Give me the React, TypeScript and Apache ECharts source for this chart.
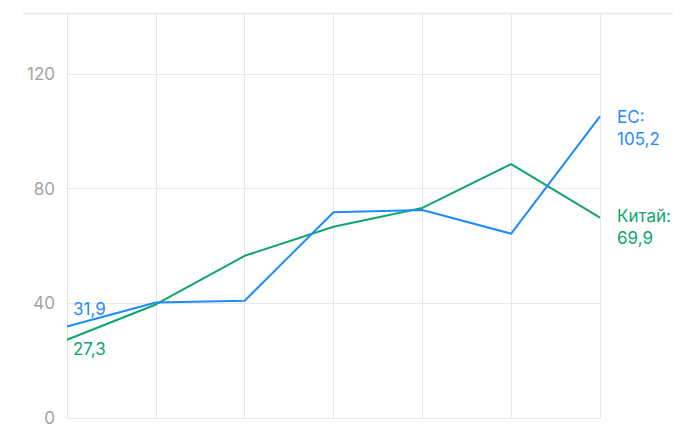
import React, { useEffect, useRef } from "react";
import * as echarts from "echarts";

const categories = ["1", "2", "3", "4", "5", "6", "7"];
const euValues = [31.9, 40.3, 40.9, 71.8, 72.6, 64.3, 105.2];
const chinaValues = [27.3, 39.6, 56.6, 66.7, 73.3, 88.6, 69.9];
const euName = "ЕС";
const chinaName = "Китай";
const yTicks = [0, 40, 80, 120];

const BLUE = "#1f8bff";
const GREEN = "#0ea66a";
const GRID = "#e8e8e8";
const FONT = "Inter";
const FS = 17;

function fmt(v: number) {
  return v.toFixed(1).replace(".", ",");
}

export default function App() {
  const ref = useRef<HTMLDivElement>(null);
  useEffect(() => {
    const chart = echarts.init(ref.current!, null, { renderer: "svg" });
    const last = categories.length - 1;
    const makeData = (vals: number[], name: string, color: string, startAbove: boolean, endDy: number) =>
      vals.map((v, i) => {
        if (i === 0) {
          return {
            value: v,
            label: {
              show: true,
              position: startAbove ? "top" : "bottom",
              distance: startAbove ? 9 : 1,
              align: "left",
              offset: [6, 0],
              formatter: fmt(v),
              color,
              fontSize: FS,
              fontFamily: FONT,
            },
          };
        }
        if (i === last) {
          return {
            value: v,
            label: {
              show: true,
              position: "right",
              distance: 17,
              offset: [0, endDy],
              formatter: name + ":\n" + fmt(v),
              color,
              fontSize: FS,
              lineHeight: 22,
              fontFamily: FONT,
            },
          };
        }
        return { value: v, label: { show: false } };
      });

    chart.setOption({
      animation: false,
      grid: { left: 67, right: 96, top: 13, bottom: 12, containLabel: false },
      xAxis: {
        type: "category",
        data: categories,
        boundaryGap: false,
        axisLine: { show: true, lineStyle: { color: GRID, width: 1 } },
        axisTick: { show: false },
        axisLabel: { show: false },
        splitLine: { show: true, lineStyle: { color: GRID, width: 1 } },
      },
      yAxis: {
        type: "value",
        min: 0,
        max: 141.3,
        interval: 40,
        axisLine: { show: false },
        axisTick: { show: false },
        axisLabel: {
          color: "#a3a3a3",
          fontSize: FS,
          fontFamily: FONT,
          margin: 12,
          formatter: (v: number) => (yTicks.indexOf(v) >= 0 ? String(v) : ""),
        },
        splitLine: { show: true, lineStyle: { color: GRID, width: 1 } },
      },
      graphic: [
        {
          type: "line",
          shape: { x1: 23, y1: 13.5, x2: 673, y2: 13.5 },
          style: { stroke: GRID, lineWidth: 1.5 },
          silent: true,
        },
      ],
      series: [
        {
          name: chinaName,
          type: "line",
          data: makeData(chinaValues, chinaName, GREEN, false, 9),
          showSymbol: true,
          symbol: "circle",
          symbolSize: 0,
          lineStyle: { color: GREEN, width: 2 },
          itemStyle: { color: GREEN },
          z: 2,
        },
        {
          name: euName,
          type: "line",
          data: makeData(euValues, euName, BLUE, true, 12),
          showSymbol: true,
          symbol: "circle",
          symbolSize: 0,
          lineStyle: { color: BLUE, width: 2 },
          itemStyle: { color: BLUE },
          z: 3,
        },
      ],
    });
    return () => chart.dispose();
  }, []);
  return <div ref={ref} style={{ width: 696, height: 430, position: "absolute", left: 0, top: 0 }} />;
}
